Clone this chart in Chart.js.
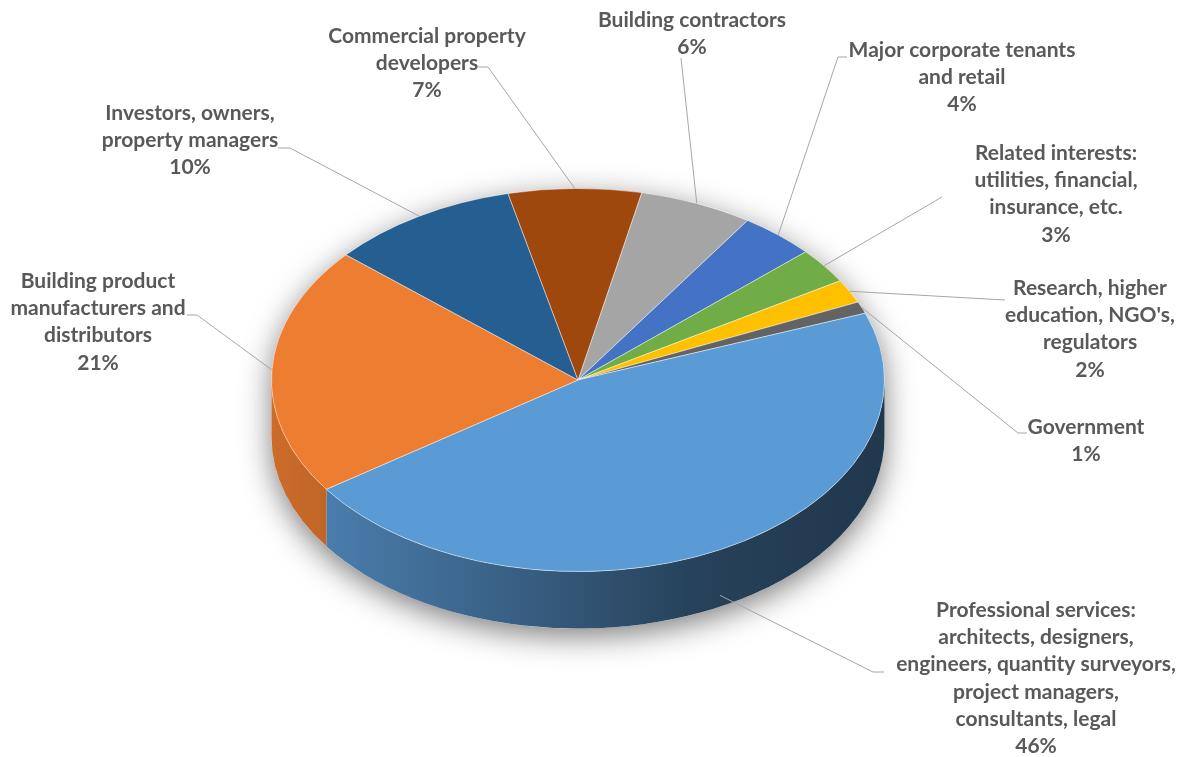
<!DOCTYPE html>
<html>
<head>
<meta charset="utf-8">
<script src="https://cdn.jsdelivr.net/npm/chart.js@4.4.0/dist/chart.umd.min.js"></script>
<style>
  html, body { margin: 0; padding: 0; background: #fff; }
  #wrap { width: 1185px; height: 757px; position: relative; }
</style>
</head>
<body>
<div id="wrap"><canvas id="myChart"></canvas></div>
<script>
var labels = [
  ['Building contractors'],
  ['Major corporate tenants', 'and retail'],
  ['Related interests:', 'utilities, financial,', 'insurance, etc.'],
  ['Research, higher', "education, NGO's,", 'regulators'],
  ['Government'],
  ['Professional services:', 'architects, designers,', 'engineers, quantity surveyors,', 'project managers,', 'consultants, legal'],
  ['Building product', 'manufacturers and', 'distributors'],
  ['Investors, owners,', 'property managers'],
  ['Commercial property', 'developers']
];
var shares = [6, 4, 3, 2, 1, 46, 21, 10, 7];
var colors = ['#A5A5A5', '#4472C4', '#70AD47', '#FFC000', '#636363', '#5B9BD5', '#ED7D31', '#255E91', '#9E480E'];

// where each label block sits (centre x, first line y) and where its leader line ends
var labelLayout = [
  {x: 692, y: 20, elbow: [681, 58], end: [681, 58]},
  {x: 962, y: 50, elbow: [838, 57], end: [847, 57]},
  {x: 1056, y: 153, elbow: [942, 197], end: [942, 197]},
  {x: 1090, y: 288, elbow: [1005, 300], end: [1005, 300]},
  {x: 1086, y: 427, elbow: [1018, 433], end: [1027, 433]},
  {x: 1036, y: 610, elbow: [873, 672], end: [884, 672]},
  {x: 98, y: 281, elbow: [197, 315], end: [187, 315]},
  {x: 190, y: 113, elbow: [290, 148], end: [278, 148]},
  {x: 427, y: 36, elbow: [488, 67], end: [478, 67]}
];

var total = shares.reduce(function (a, b) { return a + b; }, 0);

function shade(hex, f) {
  var n = parseInt(hex.slice(1), 16);
  var r = Math.round(((n >> 16) & 255) * f);
  var g = Math.round(((n >> 8) & 255) * f);
  var b = Math.round((n & 255) * f);
  return 'rgb(' + r + ',' + g + ',' + b + ')';
}

var pie3d = {
  id: 'pie3d',
  beforeDatasetsDraw: function (chart, args, o) {
    var ctx = chart.ctx;
    var arcs = chart.getDatasetMeta(0).data;
    var cx = arcs[0].x, cy = arcs[0].y, rx = arcs[0].outerRadius;
    var ry = rx * o.tilt, ey = o.centerY, d = o.depth;
    chart.$geo = {cx: cx, cy: cy, rx: rx, ry: ry, ey: ey, d: d};

    // soft drop shadow under the whole disc
    ctx.save();
    ctx.shadowColor = 'rgba(0,0,0,0.5)';
    ctx.shadowBlur = 30;
    ctx.shadowOffsetY = 8;
    ctx.fillStyle = '#fff';
    ctx.beginPath();
    ctx.ellipse(cx, ey, rx, ry, 0, Math.PI, 0, false);
    ctx.ellipse(cx, ey + d, rx, ry, 0, 0, Math.PI, false);
    ctx.closePath();
    ctx.fill();
    ctx.restore();

    // side wall, only the front half is visible
    arcs.forEach(function (arc, i) {
      for (var k = -1; k <= 2; k++) {
        var a0 = Math.max(arc.startAngle, 2 * Math.PI * k);
        var a1 = Math.min(arc.endAngle, 2 * Math.PI * k + Math.PI);
        if (a1 <= a0) continue;
        var g = ctx.createLinearGradient(cx - rx, 0, cx + rx, 0);
        g.addColorStop(0, shade(colors[i], 0.86));
        g.addColorStop(0.07, shade(colors[i], 0.82));
        g.addColorStop(0.45, shade(colors[i], 0.58));
        g.addColorStop(0.7, shade(colors[i], 0.42));
        g.addColorStop(1, shade(colors[i], 0.36));
        ctx.beginPath();
        ctx.ellipse(cx, ey, rx, ry, 0, a0, a1, false);
        ctx.ellipse(cx, ey + d, rx, ry, 0, a1, a0, true);
        ctx.closePath();
        ctx.fillStyle = g;
        ctx.fill();
      }
    });

    // squash the top face into an ellipse
    ctx.save();
    ctx.translate(cx, ey);
    ctx.scale(1, ry / rx);
    ctx.translate(-cx, -cy);
  },
  afterDatasetsDraw: function (chart) {
    chart.ctx.restore();
  },
  afterDraw: function (chart, args, o) {
    var g = chart.$geo, ctx = chart.ctx;
    var arcs = chart.getDatasetMeta(0).data;
    ctx.save();
    arcs.forEach(function (arc, i) {
      var p = labelLayout[i];
      var mid = (arc.startAngle + arc.endAngle) / 2;
      var ax = g.cx + g.rx * Math.cos(mid);
      var ay = g.ey + g.ry * Math.sin(mid);
      if (Math.sin(mid) > 0) ay += g.d * 0.8;
      ctx.strokeStyle = '#a6a6a6';
      ctx.lineWidth = 1;
      ctx.beginPath();
      ctx.moveTo(ax, ay);
      ctx.lineTo(p.elbow[0], p.elbow[1]);
      ctx.lineTo(p.end[0], p.end[1]);
      ctx.stroke();

      var lines = chart.data.labels[i].concat([Math.round(shares[i] / total * 100) + '%']);
      ctx.font = o.font;
      ctx.fillStyle = '#595959';
      ctx.textAlign = 'center';
      ctx.textBaseline = 'middle';
      lines.forEach(function (t, j) {
        ctx.fillText(t, p.x, p.y + j * o.lineHeight);
      });
    });
    ctx.restore();
  }
};

var ctx = document.getElementById('myChart').getContext('2d');
var myChart = new Chart(ctx, {
  type: 'pie',
  data: {
    labels: labels,
    datasets: [{
      data: shares,
      backgroundColor: colors,
      borderColor: 'rgba(255,255,255,0.55)',
      borderWidth: 1,
      clip: false
    }]
  },
  options: {
    responsive: true,
    maintainAspectRatio: false,
    animation: false,
    rotation: 12,
    layout: { padding: { left: 271, right: 300, top: 70, bottom: 73 } },
    plugins: {
      legend: { display: false },
      tooltip: { enabled: false },
      pie3d: { tilt: 0.625, centerY: 380, depth: 57, font: 'bold 21px Lato', lineHeight: 27.3 }
    }
  },
  plugins: [pie3d]
});
</script>
</body>
</html>
